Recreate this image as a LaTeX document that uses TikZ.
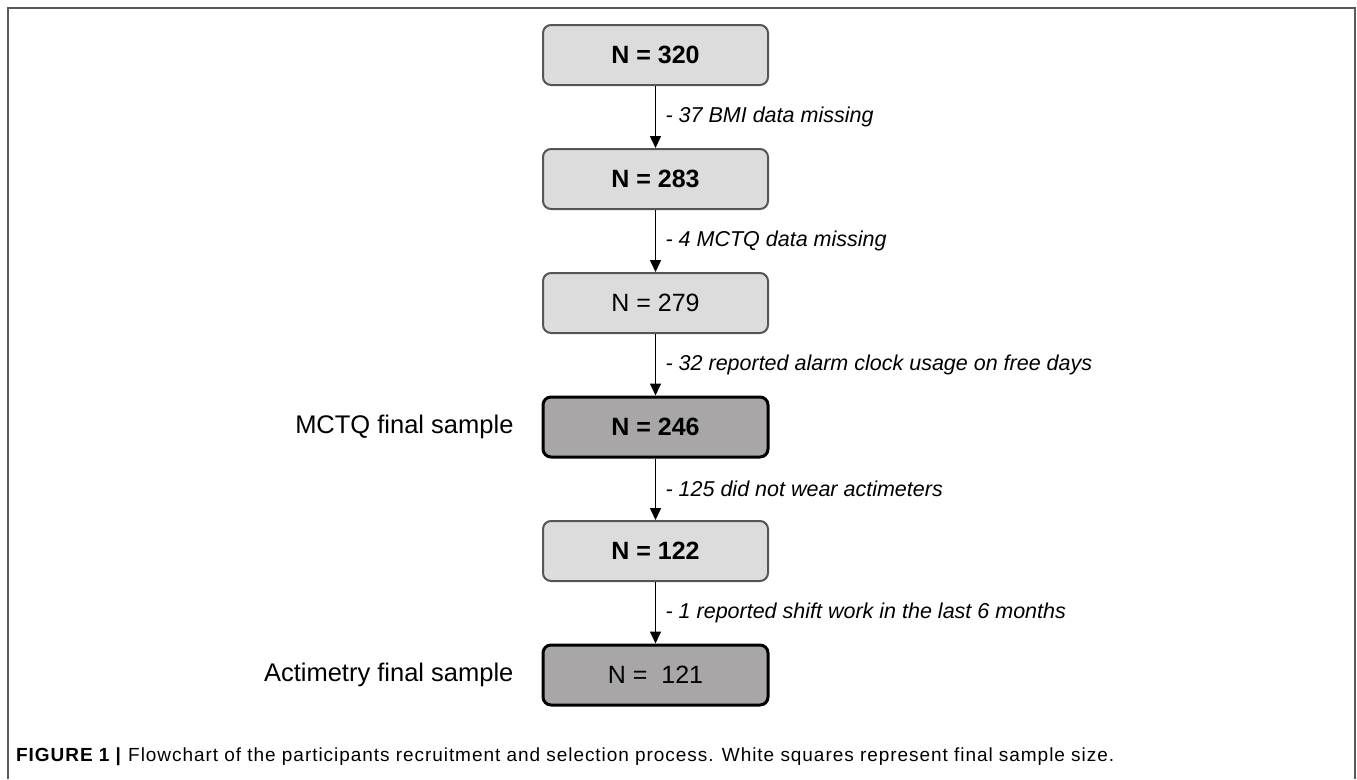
\documentclass[tikz,border=0pt]{standalone}
\usepackage{fontspec}
\setmainfont{Liberation Sans}
\usetikzlibrary{arrows.meta}
\definecolor{lightbox}{HTML}{DCDCDC}
\definecolor{darkbox}{HTML}{A8A6A6}
\definecolor{boxedge}{HTML}{555555}
\definecolor{framegray}{HTML}{5A5A5A}
\begin{document}
\begin{tikzpicture}[x=1pt,y=-1pt,
  countbox/.style={draw=boxedge, line width=2pt, fill=lightbox, rounded corners=8pt,
    minimum width=225pt, minimum height=60pt, inner sep=0pt,
    font=\fontsize{25}{30}\selectfont\bfseries},
  plainbox/.style={countbox, font=\fontsize{25}{30}\selectfont},
  finalbox/.style={countbox, draw=black, line width=3pt, fill=darkbox},
  flow/.style={-{Triangle[length=12pt,width=11pt]}, line width=1.5pt},
  drop/.style={font=\fontsize{21.5}{25}\selectfont\itshape, right, xshift=6pt},
  side/.style={font=\fontsize{25.5}{30}\selectfont, anchor=east},
]
\useasboundingbox (0,0) rectangle (1357,779);
% outer frame (open at the bottom)
\draw[framegray, line width=2pt] (8,779) -- (8,8) -- (1355,8) -- (1355,779);

% sample-size boxes
\node[countbox] (b1) at (655.5,55)  {N = 320};
\node[countbox] (b2) at (655.5,179) {N = 283};
\node[plainbox] (b3) at (655.5,303) {N = 279};
\node[finalbox] (b4) at (655.5,427) {N = 246};
\node[countbox] (b5) at (655.5,551) {N = 122};
\node[finalbox, font=\fontsize{25}{30}\selectfont] (b6) at (655.5,675) {N =\ \ 121};

% exclusion steps
\draw[flow] (b1) -- node[drop] (e1) {- 37 BMI data missing} (b2);
\draw[flow] (b2) -- node[drop] (e2) {- 4 MCTQ data missing} (b3);
\draw[flow] (b3) -- node[drop] (e3) {- 32 reported alarm clock usage on free days} (b4);
\draw[flow] (b4) -- node[drop] (e4) {- 125 did not wear actimeters} (b5);
\draw[flow] (b5) -- node[drop] (e5) {- 1 reported shift work in the last 6 months} (b6);

% final sample labels
\node[side] (s1) at (517,427) {MCTQ final sample};
\node[side] (s2) at (517,675) {Actimetry final sample};

% caption
\node[anchor=west, inner sep=0pt, font=\fontsize{19}{22}\selectfont\addfontfeatures{LetterSpace=5}] (cap) at (16,757)
  {\textbf{FIGURE 1 |} Flowchart of the participants recruitment and selection process. White squares represent final sample size.};
\end{tikzpicture}
\end{document}
